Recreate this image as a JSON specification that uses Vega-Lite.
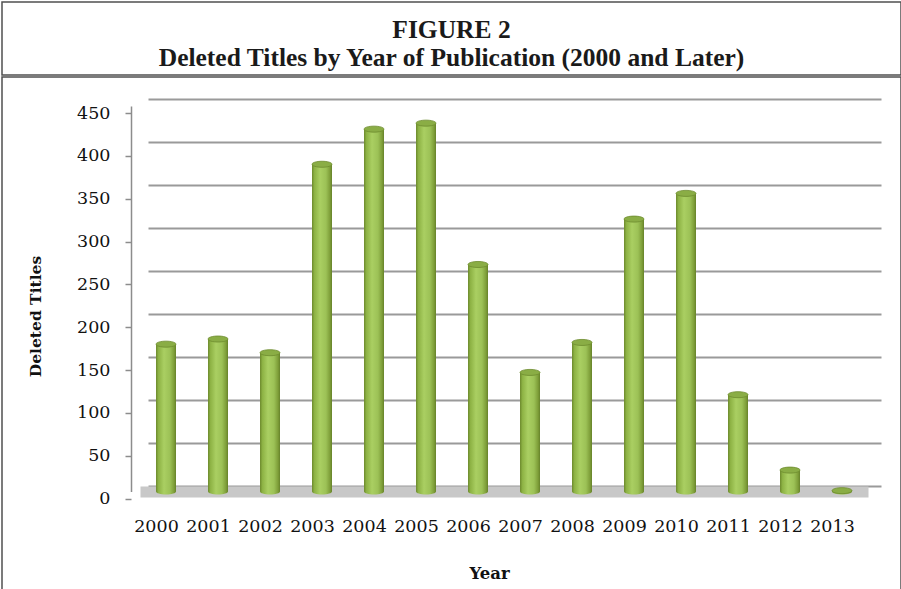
{
  "$schema": "https://vega.github.io/schema/vega-lite/v6.json",
  "background": "white",
  "padding": {"left": 1, "top": 1, "right": 1, "bottom": 1},
  "spacing": 0,
  "config": {
    "view": {"stroke": "#505050", "strokeWidth": 1.5},
    "concat": {"spacing": 0}
  },
  "vconcat": [
    {
      "width": 899,
      "height": 73,
      "view": {"stroke": "#505050", "strokeWidth": 1.5, "fill": "white"},
      "data": {"values": [{}]},
      "mark": {
        "type": "text",
        "font": "Liberation Serif",
        "fontSize": 25.5,
        "fontWeight": "bold",
        "lineHeight": 28.5,
        "baseline": "alphabetic",
        "align": "center",
        "dy": -1,
        "color": "#1a1a1a"
      },
      "encoding": {
        "text": {"value": ["FIGURE 2", "Deleted Titles by Year of Publication (2000 and Later)"]}
      }
    },
    {
      "width": 899,
      "height": 514,
      "view": {"stroke": "#505050", "strokeWidth": 1.5},
      "data": {
        "values": [
          {"year": "2000", "titles": 172},
          {"year": "2001", "titles": 178},
          {"year": "2002", "titles": 162},
          {"year": "2003", "titles": 382},
          {"year": "2004", "titles": 423},
          {"year": "2005", "titles": 430},
          {"year": "2006", "titles": 265},
          {"year": "2007", "titles": 139},
          {"year": "2008", "titles": 174},
          {"year": "2009", "titles": 318},
          {"year": "2010", "titles": 348},
          {"year": "2011", "titles": 113},
          {"year": "2012", "titles": 25},
          {"year": "2013", "titles": 1}
        ]
      },
      "layer": [
        {
          "mark": {"type": "point", "opacity": 0},
          "encoding": {
            "x": {"field": "year", "type": "ordinal", "scale": {"range": [146, 879]}, "axis": null},
            "y": {
              "field": "titles",
              "type": "quantitative",
              "scale": {"domain": [0, 450], "range": [409, 22], "nice": false},
              "axis": {
                "orient": "left",
                "values": [0, 50, 100, 150, 200, 250, 300, 350, 400, 450],
                "grid": true,
                "gridColor": "#9a9a9a",
                "gridWidth": 2,
                "labels": false,
                "ticks": false,
                "domain": false,
                "title": null
              }
            }
          }
        },
        {
          "encoding": {
            "x": {
              "field": "year",
              "type": "ordinal",
              "scale": {"range": [138, 866], "paddingInner": 0, "paddingOuter": 0},
              "axis": {
                "orient": "bottom",
                "offset": -99.5,
                "labelAngle": 0,
                "domainColor": "#c8c8c8",
                "domainWidth": 11,
                "ticks": false,
                "tickSize": 0,
                "labelOffset": -9.5,
                "labelPadding": 26,
                "labelFont": "DejaVu Serif",
                "labelFontSize": 17.5,
                "labelColor": "#111111",
                "title": "Year",
                "titleFont": "DejaVu Serif",
                "titleFontSize": 16.5,
                "titleFontWeight": "bold",
                "titleColor": "#111111",
                "titleX": 487,
                "titleY": 86.5,
                "titleAlign": "center",
                "titleBaseline": "alphabetic"
              }
            },
            "y": {
              "field": "titles",
              "type": "quantitative",
              "scale": {"domain": [0, 450], "range": [414.5, 29], "nice": false},
              "axis": {
                "orient": "left",
                "offset": -129,
                "values": [0, 50, 100, 150, 200, 250, 300, 350, 400, 450],
                "grid": false,
                "domainColor": "#8c8c8c",
                "domainWidth": 1.5,
                "tickColor": "#8c8c8c",
                "tickWidth": 1.5,
                "tickSize": 6,
                "tickOffset": 7,
                "labelOffset": 0,
                "labelPadding": 15,
                "labelFont": "DejaVu Serif",
                "labelFontSize": 17.5,
                "labelColor": "#111111",
                "title": "Deleted Titles",
                "titleFont": "DejaVu Serif",
                "titleFontSize": 15.5,
                "titleFontWeight": "bold",
                "titleColor": "#111111",
                "titleX": -95.5,
                "titleY": 239,
                "titleAngle": -90,
                "titleAlign": "center",
                "titleBaseline": "middle"
              }
            }
          },
          "layer": [
            {
              "mark": {
                "type": "bar",
                "width": 20,
                "fill": {
                  "gradient": "linear",
                  "x1": 0, "y1": 0, "x2": 1, "y2": 0,
                  "stops": [
                    {"offset": 0, "color": "#6c892d"},
                    {"offset": 0.12, "color": "#8db244"},
                    {"offset": 0.4, "color": "#aacf62"},
                    {"offset": 0.7, "color": "#9cc156"},
                    {"offset": 0.9, "color": "#7e9e39"},
                    {"offset": 1, "color": "#66822a"}
                  ]
                }
              }
            },
            {
              "mark": {
                "type": "point",
                "shape": "M-1,0A1,0.3,0,1,0,1,0A1,0.3,0,1,0,-1,0Z",
                "size": 400,
                "filled": true,
                "opacity": 1,
                "fill": {
                  "gradient": "linear",
                  "x1": 0, "y1": 0, "x2": 1, "y2": 0,
                  "stops": [
                    {"offset": 0, "color": "#6c892d"},
                    {"offset": 0.12, "color": "#8db244"},
                    {"offset": 0.4, "color": "#aacf62"},
                    {"offset": 0.7, "color": "#9cc156"},
                    {"offset": 0.9, "color": "#7e9e39"},
                    {"offset": 1, "color": "#66822a"}
                  ]
                }
              },
              "encoding": {
                "y": {"datum": 0, "type": "quantitative"}
              }
            },
            {
              "mark": {
                "type": "point",
                "shape": "M-1,0A1,0.3,0,1,0,1,0A1,0.3,0,1,0,-1,0Z",
                "size": 400,
                "filled": true,
                "opacity": 1,
                "fill": "#8aad45",
                "stroke": "#6d8b2f",
                "strokeWidth": 0.8
              }
            }
          ]
        }
      ],
      "resolve": {
        "scale": {"x": "independent", "y": "independent"},
        "axis": {"x": "independent", "y": "independent"}
      }
    }
  ]
}
